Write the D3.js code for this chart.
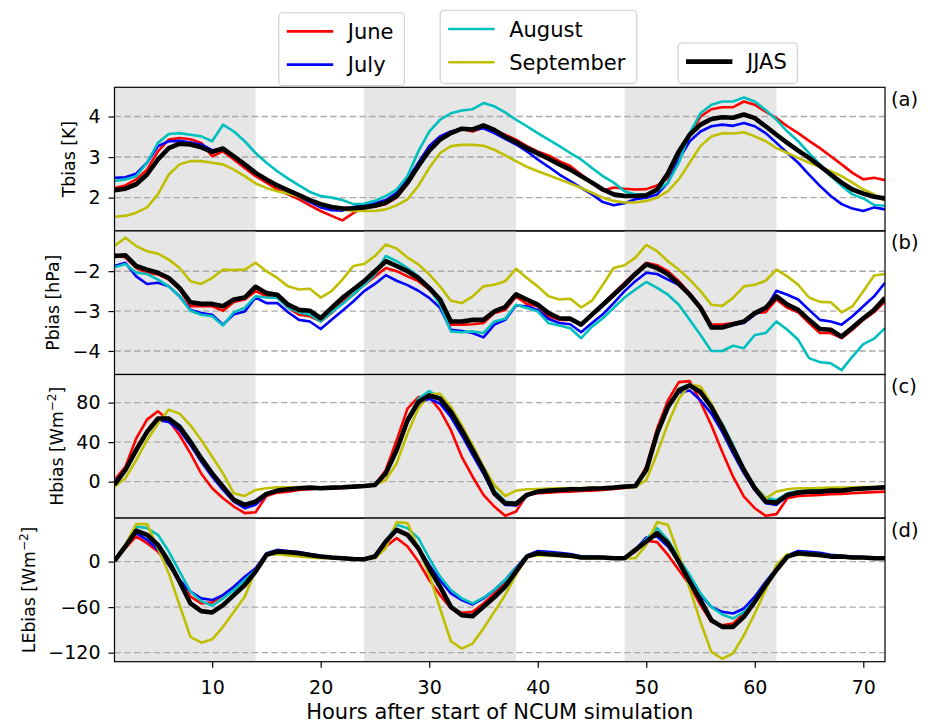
<!DOCTYPE html>
<html>
<head>
<meta charset="utf-8">
<script src="https://cdn.jsdelivr.net/npm/d3@7"></script>
<style>
  body { margin: 0; background: #fff; }
  text { font-family: "DejaVu Sans", sans-serif; }
</style>
</head>
<body>
<div id="chart"></div>
<script>
// hours after start of simulation
var hours = d3.range(1, 73);
var xTicks = [10, 20, 30, 40, 50, 60, 70];
var shadeStart = [1, 24, 48];
var shadeEnd = [14, 38, 62];

var seriesNames = ["June", "July", "August", "September", "JJAS"];
var seriesColors = ["#ff0000", "#0000ff", "#00bfbf", "#bfbf00", "#000000"];

// (a) Tbias [K]
var tJune = [2.24,2.30,2.45,2.69,3.14,3.43,3.47,3.44,3.35,3.02, 3.14,2.94,2.73,2.53,2.37,2.20,2.08,1.96,1.81,1.67, 1.55,1.44,1.62,1.77,1.78,1.84,2.00,2.33,2.78,3.27, 3.51,3.63,3.69,3.63,3.73,3.67,3.55,3.43,3.27,3.14, 3.04,2.90,2.78,2.57,2.37,2.17,2.25,2.22,2.20,2.21, 2.30,2.48,2.94,3.55,4.00,4.18,4.23,4.23,4.37,4.29, 4.12,3.96,3.76,3.59,3.40,3.22,3.02,2.82,2.61,2.45, 2.49,2.43];
var tJuly = [2.49,2.50,2.59,2.86,3.27,3.39,3.40,3.36,3.31,3.17, 3.18,3.02,2.82,2.61,2.45,2.30,2.16,2.02,1.89,1.76, 1.69,1.68,1.77,1.81,1.86,1.94,2.12,2.45,2.86,3.27, 3.51,3.63,3.69,3.67,3.71,3.59,3.45,3.31,3.14,2.94, 2.76,2.57,2.41,2.24,2.08,1.89,1.81,1.86,1.96,2.00, 2.08,2.37,2.94,3.39,3.63,3.76,3.80,3.77,3.84,3.76, 3.59,3.35,3.10,2.86,2.57,2.29,2.04,1.84,1.73,1.67, 1.76,1.71];
var tAug = [2.41,2.45,2.53,2.86,3.35,3.57,3.59,3.55,3.51,3.39, 3.80,3.63,3.39,3.10,2.86,2.65,2.47,2.30,2.14,2.04, 2.00,1.94,1.84,1.85,1.92,2.04,2.20,2.53,3.14,3.63, 3.92,4.08,4.15,4.18,4.33,4.25,4.10,3.92,3.76,3.59, 3.43,3.27,3.10,2.94,2.73,2.53,2.37,2.16,2.08,2.08, 2.16,2.37,2.86,3.59,4.08,4.29,4.37,4.37,4.47,4.37, 4.16,3.92,3.63,3.39,3.10,2.82,2.53,2.29,2.08,1.98, 1.82,1.80];
var tSep = [1.53,1.55,1.63,1.76,2.08,2.57,2.82,2.90,2.90,2.86, 2.82,2.69,2.53,2.35,2.24,2.16,2.10,2.02,1.92,1.81, 1.76,1.70,1.67,1.67,1.67,1.71,1.81,1.96,2.29,2.73, 3.10,3.27,3.30,3.30,3.28,3.18,3.04,2.90,2.76,2.65, 2.55,2.45,2.35,2.24,2.12,2.00,1.92,1.88,1.88,1.92, 2.00,2.16,2.45,2.86,3.27,3.51,3.59,3.58,3.61,3.51, 3.39,3.22,3.10,2.98,2.86,2.76,2.65,2.53,2.37,2.20, 2.08,1.92];
var tJJAS = [2.18,2.22,2.33,2.57,2.94,3.22,3.33,3.31,3.24,3.13, 3.21,3.02,2.82,2.61,2.45,2.30,2.18,2.06,1.94,1.84, 1.77,1.73,1.74,1.76,1.80,1.88,2.04,2.37,2.78,3.16, 3.43,3.59,3.70,3.68,3.78,3.67,3.50,3.37,3.22,3.09, 2.96,2.82,2.69,2.53,2.37,2.20,2.08,2.04,2.04,2.06, 2.20,2.60,3.14,3.55,3.80,3.94,3.98,3.97,4.05,3.96, 3.76,3.55,3.35,3.16,2.98,2.78,2.57,2.37,2.20,2.10, 2.02,1.98];

// (b) Pbias [hPa]
var pJune = [-1.58,-1.66,-1.92,-2.04,-2.08,-2.21,-2.46,-2.88,-2.88,-2.88, -2.99,-2.77,-2.71,-2.50,-2.63,-2.66,-2.92,-3.09,-3.13,-3.26, -3.05,-2.76,-2.59,-2.34,-2.13,-1.92,-2.00,-2.13,-2.25,-2.46, -2.76,-3.34,-3.34,-3.33,-3.30,-3.05,-2.97,-2.64,-2.82,-2.88, -3.13,-3.22,-3.22,-3.33,-3.08,-2.82,-2.55,-2.29,-2.04,-1.79, -1.85,-2.00,-2.25,-2.55,-2.88,-3.34,-3.34,-3.30,-3.26,-3.05, -3.03,-2.71,-2.92,-3.03,-3.30,-3.55,-3.55,-3.68,-3.47,-3.22, -3.03,-2.76];
var pJuly = [-1.87,-1.79,-2.13,-2.32,-2.29,-2.38,-2.63,-2.97,-3.05,-3.09, -3.34,-3.08,-3.01,-2.66,-2.80,-2.80,-3.03,-3.22,-3.26,-3.45, -3.22,-2.99,-2.76,-2.50,-2.32,-2.10,-2.24,-2.35,-2.49,-2.67, -2.92,-3.47,-3.50,-3.55,-3.66,-3.34,-3.22,-2.86,-2.88,-2.97, -3.20,-3.30,-3.33,-3.53,-3.30,-3.08,-2.80,-2.50,-2.25,-2.04, -2.07,-2.21,-2.34,-2.59,-2.92,-3.43,-3.39,-3.34,-3.30,-3.09, -2.94,-2.49,-2.59,-2.71,-2.97,-3.22,-3.26,-3.34,-3.13,-2.88, -2.63,-2.29];
var pAug = [-1.90,-1.82,-2.04,-2.07,-2.21,-2.38,-2.63,-2.99,-3.09,-3.13, -3.36,-3.03,-2.92,-2.63,-2.66,-2.67,-2.92,-3.03,-3.09,-3.26, -3.03,-2.82,-2.59,-2.34,-2.08,-1.62,-1.75,-1.92,-2.13,-2.42, -2.84,-3.51,-3.53,-3.51,-3.55,-3.26,-3.19,-2.84,-2.92,-3.01, -3.30,-3.36,-3.43,-3.68,-3.39,-3.18,-2.92,-2.66,-2.46,-2.27, -2.42,-2.59,-2.84,-3.22,-3.60,-4.00,-4.00,-3.87,-3.93,-3.60, -3.55,-3.26,-3.47,-3.72,-4.18,-4.28,-4.31,-4.48,-4.14,-3.83, -3.69,-3.43];
var pSep = [-1.37,-1.16,-1.37,-1.50,-1.56,-1.71,-1.92,-2.25,-2.32,-2.17, -1.96,-1.97,-1.96,-1.79,-2.00,-2.17,-2.38,-2.46,-2.44,-2.66, -2.50,-2.21,-1.87,-1.82,-1.62,-1.33,-1.43,-1.66,-1.83,-2.08, -2.38,-2.74,-2.80,-2.63,-2.38,-2.34,-2.25,-1.94,-2.17,-2.38, -2.63,-2.71,-2.69,-2.91,-2.74,-2.34,-1.92,-1.85,-1.66,-1.34, -1.50,-1.75,-1.96,-2.21,-2.50,-2.84,-2.87,-2.67,-2.38,-2.34, -2.24,-1.96,-2.13,-2.34,-2.66,-2.77,-2.78,-3.03,-2.88,-2.50, -2.11,-2.07];
var pJJAS = [-1.62,-1.60,-1.87,-1.96,-2.04,-2.17,-2.42,-2.78,-2.82,-2.82, -2.88,-2.71,-2.66,-2.39,-2.55,-2.59,-2.84,-2.97,-2.99,-3.18, -2.92,-2.67,-2.46,-2.25,-2.00,-1.75,-1.87,-2.00,-2.17,-2.42, -2.71,-3.26,-3.26,-3.22,-3.22,-3.01,-2.90,-2.58,-2.71,-2.84, -3.05,-3.18,-3.19,-3.34,-3.09,-2.84,-2.59,-2.34,-2.07,-1.83, -1.92,-2.08,-2.32,-2.59,-2.92,-3.41,-3.41,-3.33,-3.26,-3.05, -2.92,-2.63,-2.84,-2.97,-3.22,-3.45,-3.47,-3.64,-3.41,-3.18, -2.97,-2.67];

// (c) Hbias [W m-2]
var hJune = [1.7,15,43.7,62.8,71.3,62.2,47,28.6,8,-6.7, -16.8,-25.2,-31.9,-30.9,-14.5,-11.1,-10.1,-8.4,-7.7,-6.7, -6.7,-6.7,-5.7,-5,-3.4,11.8,42,74,85.7,85.7, 72.3,52.1,25.2,5,-13.4,-25.2,-34.6,-30.2,-13.4,-11.8, -11.1,-10.4,-10.1,-9.4,-9.1,-8.4,-7.4,-6.4,-5,15.1, 53.8,82.3,100.8,101.8,80.7,57.1,30.2,5,-15.1,-26.9, -34.6,-32.9,-16.8,-14.5,-14,-13.4,-12.8,-12.4,-11.8,-11.1, -10.6,-10.1];
var hJuly = [0,11.8,32,50.4,62.2,60.5,52,37,20.2,5, -8.4,-20.2,-26.9,-23.5,-13.4,-9.1,-7.7,-6.7,-6,-6.7, -6,-5.7,-5,-4.4,-3.4,8.4,32,60,79,84, 79,65.5,47,27,8,-13.4,-23.5,-24.2,-14.5,-10.8, -9.4,-8.7,-8,-8,-7.4,-7,-6.4,-5.4,-4.7,11.8, 48.7,75.6,90,92.4,82.3,68.9,50.4,28.6,8.4,-8.4, -21.8,-23.5,-14.5,-11.8,-10.8,-10.1,-9.4,-9.1,-8,-7.4, -7,-6.7];
var hAug = [-1,12,32.5,51,64,64.5,57,42,25,9.4, -4.4,-17.5,-22.5,-19.5,-12,-9,-7.7,-6.7,-6,-6.7, -6,-5.7,-5,-4.4,-3.4,8.4,33,63,84,91.8, 85,71.6,54,34,14,-9,-20.2,-21.5,-12.8,-9.8, -8.8,-8.2,-7.5,-7.5,-6.8,-6.5,-5.8,-4.8,-4.2,12, 49,76,94,98.5,89,75.6,58.8,37,13.4,-5, -16.1,-18.5,-11.8,-9.5,-9,-8.4,-8,-7.4,-7,-6.4, -6,-5.4];
var hSep = [-5,3.4,21.8,42,58.8,72.9,68.9,57.1,42,25.2, 8.4,-11.8,-14.5,-8.4,-6.7,-5.7,-5.7,-5.4,-5.7,-6.7, -6,-5.7,-5,-4.4,-3.4,1.7,18.5,48.7,74,88.4, 89,75.6,57.1,37,15.1,-3.4,-14.5,-9.1,-7.7,-7.4, -7,-6.7,-6.4,-6.4,-6,-6,-5.7,-5.4,-5.7,1.7, 28.6,58.8,84,98.5,96.4,79,57.1,35.3,11.8,-5, -16.8,-10.1,-7.7,-6.7,-6.7,-6.4,-6,-6,-5.7,-5.4, -5.4,-5];
var hJJAS = [-3,11.8,32,50.4,63.9,63.9,55.5,40.3,23.5,8.4, -5,-18.5,-23.5,-20.2,-12.4,-9.1,-7.7,-6.7,-6,-6.7, -6,-5.7,-5,-4.4,-3.4,8.4,32,62.2,80.7,87.4, 84,70.6,52.1,31.9,11.8,-11.8,-21.8,-22.5,-13.4,-10.1, -9.1,-8.4,-7.7,-7.7,-7,-6.7,-6,-5,-4.4,11.8, 48.7,75.6,92.4,97.5,90.7,75.6,55.5,33.6,11.8,-6.7, -20.2,-21.2,-13.4,-11.1,-10.1,-10.1,-9.1,-9.1,-7.7,-7, -6.4,-5.7];

// (d) LEbias [W m-2]
var leJune = [1,17.6,33.1,24.3,13.2,-4.4,-24.3,-46.3,-55.1,-53.8, -44.1,-33.1,-22.1,-11,8.8,12,11.5,10,8,6.2, 5,4.2,3.5,3.1,8,19.9,30.9,19.9,0,-24.3, -44.1,-61.8,-67.5,-66.2,-55.1,-41.9,-28,-12,6.6,10.5, 9.5,8.5,7.5,5.3,5.3,5,4.4,4.4,13.2,27.4, 25.6,8.8,-11,-30.9,-57.4,-79.4,-83.8,-81.6,-68.4,-50.7, -30.9,-11,6.6,10.5,9.5,8.5,6.6,6.2,5.3,5, 4.4,4.4];
var leJuly = [1,20,37.5,28.7,15.4,-4.4,-24.3,-39.7,-48.5,-50.7, -44.1,-33.1,-19.9,-8.8,11,15.4,14,12.5,10,7.5, 6,5,4,3.5,8,28,41.9,35.3,17.6,-4.4, -24.3,-41.9,-50.7,-56.5,-48.5,-37.5,-24.3,-8,8,14, 13,11.5,10,7,6.5,6,5,4.5,15.4,31.8, 33.1,19.9,0,-22,-44.1,-59.6,-66.2,-68.4,-61.8,-46.3, -26.5,-8.8,8,14,13,11.5,9,7.5,6.6,5.5, 5,4.4];
var leAug = [1,22,46.3,44.1,35.3,13.2,-13.2,-39.7,-52.1,-58.2, -48.5,-37.5,-24.3,-11,9.7,13,12,11,9,7, 5.5,4.5,3.5,3.1,8,26.5,48.5,44.1,30.9,4.4, -19.9,-37.5,-48.5,-55.1,-47.6,-37.5,-24.3,-8.5,7.5,12, 11,10,8.8,6.6,6,5.5,4.8,4.4,15,30, 44.1,28.7,4.4,-17.6,-41.9,-59.6,-69.7,-75,-66.2,-50.7, -28.7,-8.8,7.5,12,11,10,8,7,6,5.3, 4.8,4.4];
var leSep = [0,22,49.4,49.4,17.6,-15.4,-57.4,-99.3,-106.8,-102.4, -86,-66.2,-46.3,-11,8.8,9.7,8,6.6,5.3,4.4, 4.4,3.5,3.1,3.1,4.4,17.6,52,50.7,17.6,-17.6, -61.8,-105,-114.7,-108,-88,-66,-44,-17.6,6.6,8.5, 8,7,6,4.4,4.4,4.4,4.4,4.4,4.4,22, 52,48.5,8.8,-35.3,-79.4,-119,-128,-121,-97,-68.4, -37.5,-4.4,9.7,8.8,8,7,6,5.3,4.4,4.4, 4.4,4.4];
var leJJAS = [0.9,19.9,40.6,35.3,22.1,0,-26.5,-55.1,-65.3,-67, -57.4,-44.1,-30.9,-13.2,8.8,13.2,12.4,11,8.8,6.6, 5.3,4.4,3.5,3.1,6.6,26.5,41.9,35.3,17.6,-8.8, -33.1,-59.6,-70.6,-71.9,-59.6,-47,-33,-13,6.6,11, 9.7,8.8,7.9,5.3,5.3,5.3,4.4,4.4,15.4,26.5, 37.5,24.3,0,-26.5,-50.7,-77.2,-86,-86,-72.8,-52.9, -30.9,-11,6.6,11,9.7,8.8,6.6,6.6,5.3,5.3, 4.4,4.4];

var tTicks = [2, 3, 4];
var pTicks = [-4, -3, -2];
var hTicks = [0, 40, 80];
var leTicks = [-120, -60, 0];

var panels = [
	{tag: "(a)", label: ["Tbias [K]"], domain: [1.18, 4.72], ticks: tTicks, series: [tJune, tJuly, tAug, tSep, tJJAS]},
	{tag: "(b)", label: ["Pbias [hPa]"], domain: [-4.59, -0.99], ticks: pTicks, series: [pJune, pJuly, pAug, pSep, pJJAS]},
	{tag: "(c)", label: ["Hbias [Wm", "\u22122", "]"], domain: [-36.9, 108.5], ticks: hTicks, series: [hJune, hJuly, hAug, hSep, hJJAS]},
	{tag: "(d)", label: ["LEbias [Wm", "\u22122", "]"], domain: [-131.9, 57.3], ticks: leTicks, series: [leJune, leJuly, leAug, leSep, leJJAS]}
];

// layout
var left = 114.5, right = 885, top0 = 87.3, ph = 143.6;
var tickFont = 19, labelFont = 17.3;
var fmt = d3.format("d");

var svg = d3.select("#chart").append("svg")
	.attr("width", 934)
	.attr("height", 725);

var x = d3.scaleLinear().domain([1, 72]).range([left, right]);

panels.forEach(function(p, i) {
	var top = top0 + i * ph;
	var y = d3.scaleLinear().domain(p.domain).range([top + ph, top]);
	var g = svg.append("g");

	svg.append("clipPath").attr("id", "clip" + i)
		.append("rect")
		.attr("x", left).attr("y", top)
		.attr("width", right - left).attr("height", ph);

	// shaded periods
	g.selectAll(".shade")
		.data(shadeStart.map(function(s, k) { return [s, shadeEnd[k]]; }))
		.enter().append("rect")
		.attr("x", function(d) { return x(d[0]); })
		.attr("width", function(d) { return x(d[1]) - x(d[0]); })
		.attr("y", top)
		.attr("height", ph)
		.attr("fill", "#e6e6e6");

	// dashed grid
	g.selectAll(".grid")
		.data(p.ticks)
		.enter().append("line")
		.attr("x1", left).attr("x2", right)
		.attr("y1", function(d) { return y(d); })
		.attr("y2", function(d) { return y(d); })
		.attr("stroke", "#aaaaaa")
		.attr("stroke-width", 1.4)
		.attr("stroke-dasharray", "6.5,3.3");

	var line = d3.line()
		.x(function(d, k) { return x(hours[k]); })
		.y(function(d) { return y(d); });

	p.series.forEach(function(s, k) {
		g.append("path")
			.datum(s)
			.attr("d", line)
			.attr("clip-path", "url(#clip" + i + ")")
			.attr("fill", "none")
			.attr("stroke", seriesColors[k])
			.attr("stroke-width", k == 4 ? 4.6 : 2.6)
			.attr("stroke-linejoin", "round");
	});

	// frame
	g.append("rect")
		.attr("x", left).attr("y", top)
		.attr("width", right - left).attr("height", ph)
		.attr("fill", "none")
		.attr("stroke", "#000")
		.attr("stroke-width", 1.2);

	// y axis
	var ax = g.append("g")
		.attr("transform", "translate(" + left + ",0)")
		.call(d3.axisLeft(y).tickValues(p.ticks).tickFormat(fmt).tickSize(6).tickPadding(8));
	ax.select(".domain").remove();
	ax.attr("font-family", "DejaVu Sans").attr("font-size", tickFont);
	ax.selectAll("line").attr("stroke-width", 1.2);
	ax.selectAll("text").attr("fill", "#000");

	var bb = ax.node().getBBox();
	var lab = g.append("text")
		.attr("transform", "translate(" + (left + bb.x - 13) + "," + (top + ph / 2) + ") rotate(-90)")
		.attr("text-anchor", "middle")
		.style("font-size", labelFont + "px");
	lab.append("tspan").text(p.label[0]);
	if (p.label.length > 1) {
		lab.append("tspan").attr("dy", -7).style("font-size", "12px").text(p.label[1]);
		lab.append("tspan").attr("dy", 7).text(p.label[2]);
	}

	// panel tag
	g.append("text")
		.attr("x", 891)
		.attr("y", top + 18.5)
		.style("font-size", "19.5px")
		.text(p.tag);
});

// x axis on the bottom panel
var xa = svg.append("g")
	.attr("transform", "translate(0," + (top0 + 4 * ph) + ")")
	.call(d3.axisBottom(x).tickValues(xTicks).tickFormat(fmt).tickSize(6).tickPadding(13));
xa.select(".domain").remove();
xa.attr("font-family", "DejaVu Sans").attr("font-size", tickFont);
xa.selectAll("line").attr("stroke-width", 1.2);
xa.selectAll("text").attr("fill", "#000");

svg.append("text")
	.attr("x", (left + right) / 2)
	.attr("y", 719)
	.attr("text-anchor", "middle")
	.style("font-size", "21px")
	.text("Hours after start of NCUM simulation");

// legends: three separate boxes
var legendBoxes = [
	{x: 278.8, y: 12.7, w: 125.6, h: 73, items: [0, 1]},
	{x: 440.2, y: 10.3, w: 196.5, h: 73.2, items: [2, 3]},
	{x: 678, y: 42.9, w: 119.4, h: 40.6, items: [4]}
];

legendBoxes.forEach(function(b) {
	var lg = svg.append("g");
	lg.append("rect")
		.attr("x", b.x).attr("y", b.y)
		.attr("width", b.w).attr("height", b.h)
		.attr("rx", 4)
		.attr("fill", "#fff")
		.attr("stroke", "#d5d5d5")
		.attr("stroke-width", 1.3);
	b.items.forEach(function(k, j) {
		var ry = b.y + 18.7 + j * 33.2;
		lg.append("line")
			.attr("x1", b.x + 8).attr("x2", b.x + 54.4)
			.attr("y1", ry).attr("y2", ry)
			.attr("stroke", seriesColors[k])
			.attr("stroke-width", k == 4 ? 4.6 : 2.6);
		lg.append("text")
			.attr("x", b.x + 69)
			.attr("y", ry + 7.8)
			.style("font-size", "21px")
			.text(seriesNames[k]);
	});
});
</script>
</body>
</html>
